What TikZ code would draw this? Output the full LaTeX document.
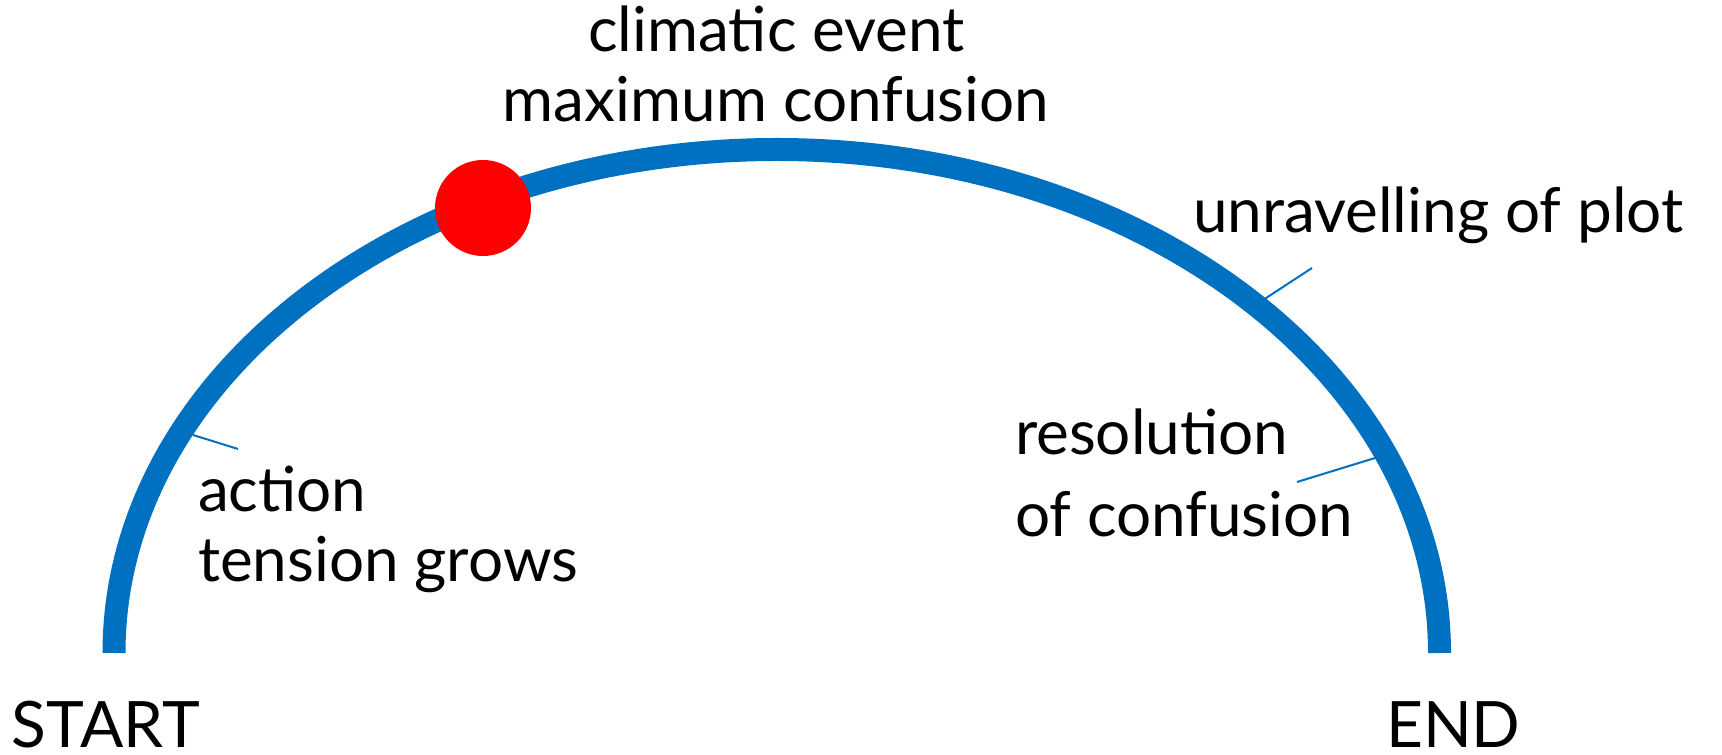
\documentclass[tikz,border=0pt]{standalone}
\usepackage{fontspec}
\setmainfont{Lato}
\definecolor{arcblue}{RGB}{0,112,192}
\definecolor{dotred}{RGB}{255,0,0}
\begin{document}
\begin{tikzpicture}[x=1pt,y=1pt,
  lbl/.style={inner sep=0pt,outer sep=0pt,font=\fontsize{62}{74}\selectfont,text=black},
  capl/.style={lbl,font=\fontsize{64}{76}\selectfont},
  arcline/.style={draw=arcblue,line width=23pt},
  leader/.style={draw=arcblue,line width=2pt}]
\useasboundingbox (0,0) rectangle (1722,755);
% main arc
\coordinate (s) at (114,102);
\draw[arcline] (s) arc[start angle=180,end angle=0,x radius=662.75,y radius=503.5] coordinate (e);
% climax dot
\node[circle,fill=dotred,minimum size=96pt,inner sep=0pt] (dot) at (483,547) {};
% labels
\node[lbl,anchor=base] (clim) at (776.5,703) {climatic event};
\node[lbl,anchor=base] (maxc) at (776,633) {maximum confusion};
\node[lbl,anchor=base west] (unr) at (1193,522) {unravelling of plot};
\node[lbl,anchor=base west] (res1) at (1015,300) {resolution};
\node[lbl,anchor=base west] (res2) at (1015,218) {of confusion};
\node[lbl,anchor=base west] (act1) at (198,243) {action};
\node[lbl,anchor=base west] (act2) at (198,173) {tension grows};
\node[capl,anchor=base west] (start) at (12,7) {START};
\node[capl,anchor=base west] (end) at (1386,7) {END};
% leader lines
\coordinate (a1) at (193,320); \coordinate (a2) at (238,306);
\coordinate (u1) at (1260,453); \coordinate (u2) at (1312,487);
\coordinate (r1) at (1375,297); \coordinate (r2) at (1297,273);
\draw[leader] (a1) -- (a2);
\draw[leader] (u1) -- (u2);
\draw[leader] (r1) -- (r2);
\end{tikzpicture}
\end{document}
